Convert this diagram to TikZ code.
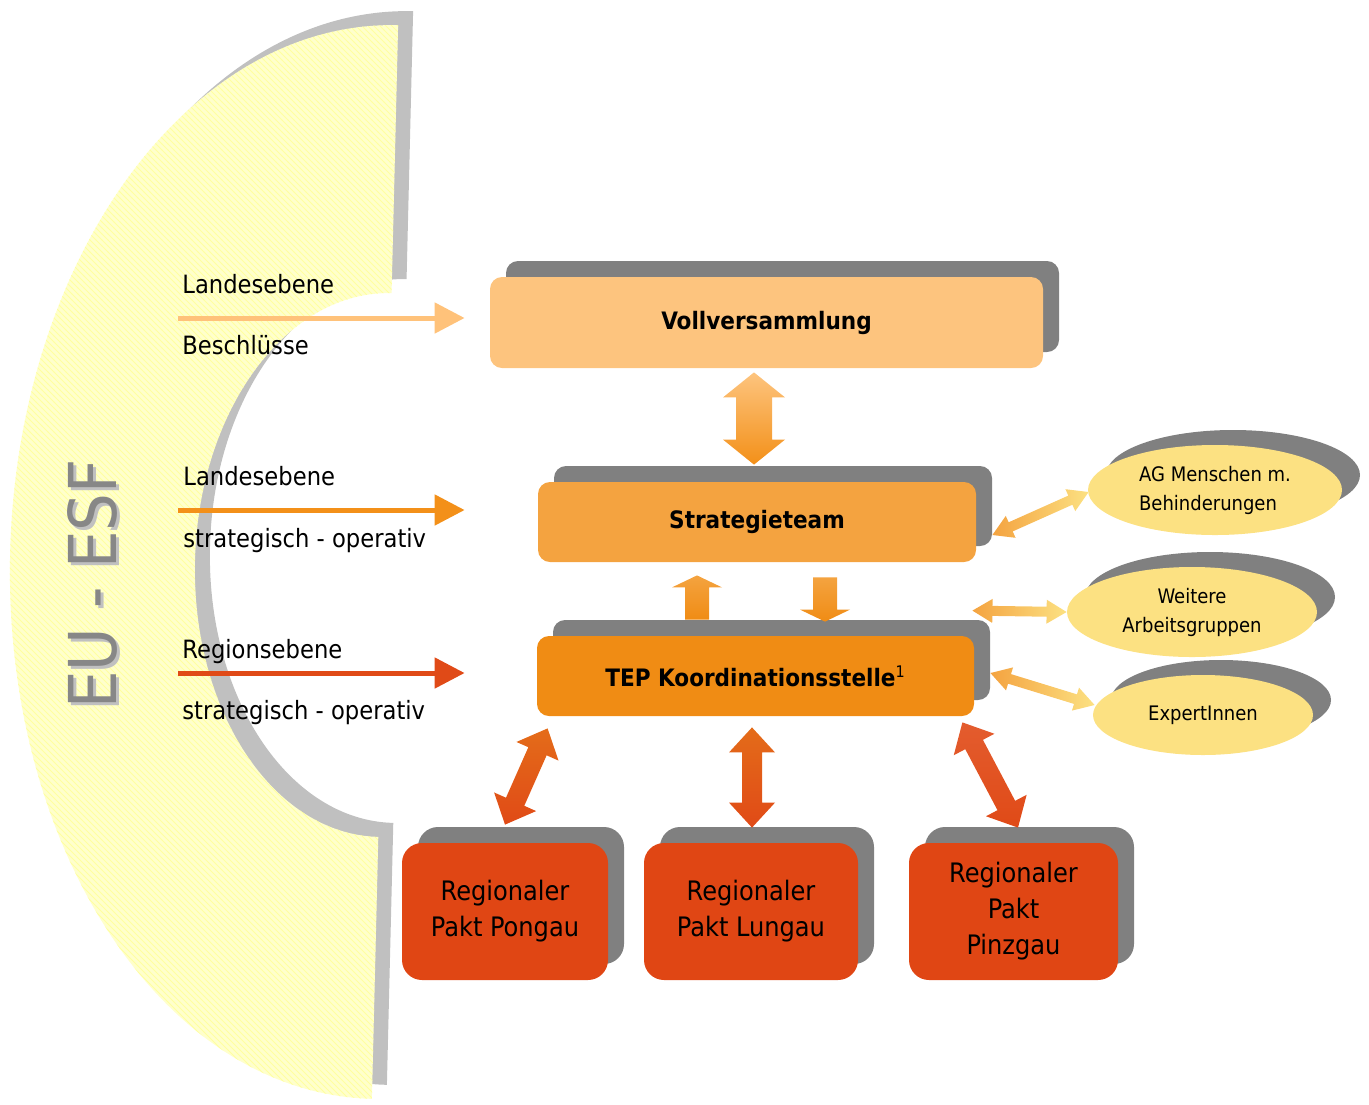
\documentclass[tikz,border=0pt]{standalone}
\usepackage{fontspec}
\setmainfont{DejaVu Sans Condensed}
\usetikzlibrary{calc,shadows,shapes.geometric,arrows.meta,patterns}

\definecolor{moon}{RGB}{255,255,204}
\definecolor{moonline}{RGB}{255,255,160}
\definecolor{moonshadow}{RGB}{192,192,192}
\definecolor{textgray}{RGB}{135,135,135}
\definecolor{boxshadow}{RGB}{128,128,128}
\definecolor{vollcol}{RGB}{253,196,126}
\definecolor{stratcol}{RGB}{244,163,64}
\definecolor{tepcol}{RGB}{240,140,20}
\definecolor{regioncol}{RGB}{224,70,20}
\definecolor{ellipcol}{RGB}{252,225,130}
\definecolor{arrlight}{RGB}{255,194,122}
\definecolor{arrmid}{RGB}{243,144,25}
\definecolor{arrdark}{RGB}{224,74,23}
\definecolor{arrtop}{RGB}{228,108,25}

% double block arrow: from, to, half shaft, half head, head length, shading
\newcommand{\dblarr}[6]{%
  \coordinate (ba1) at ($(#1)!#5!(#2)$);
  \coordinate (ba2) at ($(#2)!#5!(#1)$);
  \shade[#6] (#1) -- ($(ba1)!#4!90:(#2)$) -- ($(ba1)!#3!90:(#2)$)
    -- ($(ba2)!#3!90:(#2)$) -- ($(ba2)!#4!90:(#2)$) -- (#2)
    -- ($(ba2)!#4!-90:(#2)$) -- ($(ba2)!#3!-90:(#2)$)
    -- ($(ba1)!#3!-90:(#2)$) -- ($(ba1)!#4!-90:(#2)$) -- cycle;}
% single block arrow: tail, tip, half shaft, half head, head length, shading
\newcommand{\onearr}[6]{%
  \coordinate (ba2) at ($(#2)!#5!(#1)$);
  \shade[#6] ($(#1)!#3!90:(#2)$) -- ($(ba2)!#3!90:(#2)$) -- ($(ba2)!#4!90:(#2)$) -- (#2)
    -- ($(ba2)!#4!-90:(#2)$) -- ($(ba2)!#3!-90:(#2)$) -- ($(#1)!#3!-90:(#2)$) -- cycle;}

\begin{document}
\begin{tikzpicture}[x=0.5pt,y=-0.5pt,
  lbl/.style={anchor=base west, inner sep=0pt, font=\fontsize{12.6}{15}\selectfont},
  box/.style={rounded corners=6pt, inner sep=0pt, align=center,
    font=\fontsize{12}{18}\selectfont\bfseries,
    general shadow={fill=boxshadow, shadow xshift=8pt, shadow yshift=8pt}},
  regionbox/.style={box, rounded corners=10pt, fill=regioncol, minimum height=68.5pt,
    font=\fontsize{13.4}{18}\selectfont},
  oval/.style={ellipse, inner sep=0pt, fill=ellipcol, font=\fontsize{10}{14.5}\selectfont,
    general shadow={fill=boxshadow, shadow xshift=9pt, shadow yshift=7.5pt}},
  inarr/.style={line width=2.5pt, -{Triangle[length=15pt,width=15pt]}, shorten >=12.5pt}]
 \useasboundingbox (0,0) rectangle (1369,1104);

 \begin{scope}[rotate around={-1.4:(385,562)}]
 \fill[moon, general shadow={fill=moonshadow, shadow xshift=7.5pt, shadow yshift=7pt},
   postaction={pattern=north west lines, pattern color=moonline}]
   (385,25) arc[start angle=270, end angle=90, x radius=375, y radius=537]
   -- (385,837) arc[start angle=90, end angle=270, x radius=190, y radius=272] -- cycle;
 \end{scope}

 \node[rotate=90, text=moonshadow, font=\fontsize{33}{33}\selectfont] (eushadow) at (95,587) {EU - ESF};
 \node[rotate=90, text=textgray, font=\fontsize{33}{33}\selectfont] (eu) at (92,584) {EU - ESF};

 \node[box, fill=vollcol, minimum width=276.5pt, minimum height=45.5pt] (voll) at (766.5,322.5) {Vollversammlung};
 \node[box, fill=stratcol, minimum width=219pt, minimum height=40pt] (strat) at (757,522) {Strategieteam};
 \node[box, fill=tepcol, minimum width=218.5pt, minimum height=40pt] (tep) at (755.5,676)
   {TEP Koordinationsstelle\textsuperscript{\mdseries 1}};

 \node[regionbox, minimum width=103pt] (pongau) at (505,911.5) {Regionaler\\Pakt Pongau};
 \node[regionbox, minimum width=107pt] (lungau) at (751,911.5) {Regionaler\\Pakt Lungau};
 \node[regionbox, minimum width=104.5pt] (pinzgau) at (1013.5,911.5) {Regionaler\\Pakt\\Pinzgau};

 \node[oval, minimum width=127pt, minimum height=45pt, align=left] (ag) at (1215,490) {AG Menschen m.\\Behinderungen};
 \node[oval, minimum width=125pt, minimum height=45pt, align=center] (weitere) at (1192,612) {Weitere\\Arbeitsgruppen};
 \node[oval, minimum width=110pt, minimum height=40pt] (experten) at (1203,715) {ExpertInnen};

 \coordinate (in1) at (178,318);
 \coordinate (in2) at (178,510);
 \coordinate (in3) at (178,673);
 \draw[inarr, arrlight] (in1) -- (in1 -| voll.west);
 \draw[inarr, arrmid] (in2) -- (in2 -| voll.west);
 \draw[inarr, arrdark] (in3) -- (in3 -| voll.west);
 \node[lbl] (l1) at (182,293) {Landesebene};
 \node[lbl] (l2) at (182,354) {Beschlüsse};
 \node[lbl] (l3) at (183,485) {Landesebene};
 \node[lbl] (l4) at (183,547) {strategisch - operativ};
 \node[lbl] (l5) at (182,658) {Regionsebene};
 \node[lbl] (l6) at (182,719) {strategisch - operativ};

 \coordinate (vs1) at ($(voll.south)+(-12.5,4)$);
 \coordinate (vs2) at ($(strat.north)+(-3,-17)$);
 \dblarr{vs1}{vs2}{9pt}{15.5pt}{12.5pt}{top color=vollcol, bottom color=arrmid}
 \coordinate (up1) at ($(tep.north)+(-58.5,-16)$);
 \coordinate (up2) at ($(strat.south)+(-60,13)$);
 \onearr{up1}{up2}{6pt}{12.5pt}{6pt}{top color=stratcol, bottom color=tepcol}
 \coordinate (dn1) at ($(strat.south)+(68,15)$);
 \coordinate (dn2) at ($(tep.north)+(69.5,-14)$);
 \onearr{dn1}{dn2}{6pt}{12.5pt}{6pt}{top color=stratcol, bottom color=tepcol}

 \coordinate (sa1) at ($(strat.east)+(16,13)$);
 \coordinate (sa2) at ($(ag.west)+(1,2)$);
 \dblarr{sa1}{sa2}{2.5pt}{6pt}{10pt}{left color=stratcol, right color=ellipcol}
 \coordinate (wa1) at ($(tep.north east)+(-2,-25)$);
 \coordinate (wa2) at (weitere.west);
 \dblarr{wa1}{wa2}{2.5pt}{6pt}{10pt}{left color=stratcol, right color=ellipcol}
 \coordinate (ea1) at ($(tep.east)+(16,-3)$);
 \coordinate (ea2) at ($(experten.west)+(2,-10)$);
 \dblarr{ea1}{ea2}{2.5pt}{6pt}{10pt}{left color=stratcol, right color=ellipcol}

 \coordinate (pa1) at ($(tep.south west)+(11,12)$);
 \coordinate (pa2) at ($(pongau.north)+(0,-18)$);
 \dblarr{pa1}{pa2}{5pt}{11.5pt}{12.5pt}{top color=arrtop, bottom color=arrdark}
 \coordinate (la1) at ($(tep.south)+(-3.5,11)$);
 \coordinate (la2) at ($(lungau.north)+(1,-15)$);
 \dblarr{la1}{la2}{5pt}{11.5pt}{12.5pt}{top color=arrtop, bottom color=arrdark}
 \coordinate (za1) at ($(tep.south east)+(-12,6)$);
 \coordinate (za2) at ($(pinzgau.north)+(4.5,-15)$);
 \dblarr{za1}{za2}{5pt}{11.5pt}{12.5pt}{top color=arrdark!90!white, bottom color=arrdark}
\end{tikzpicture}
\end{document}
